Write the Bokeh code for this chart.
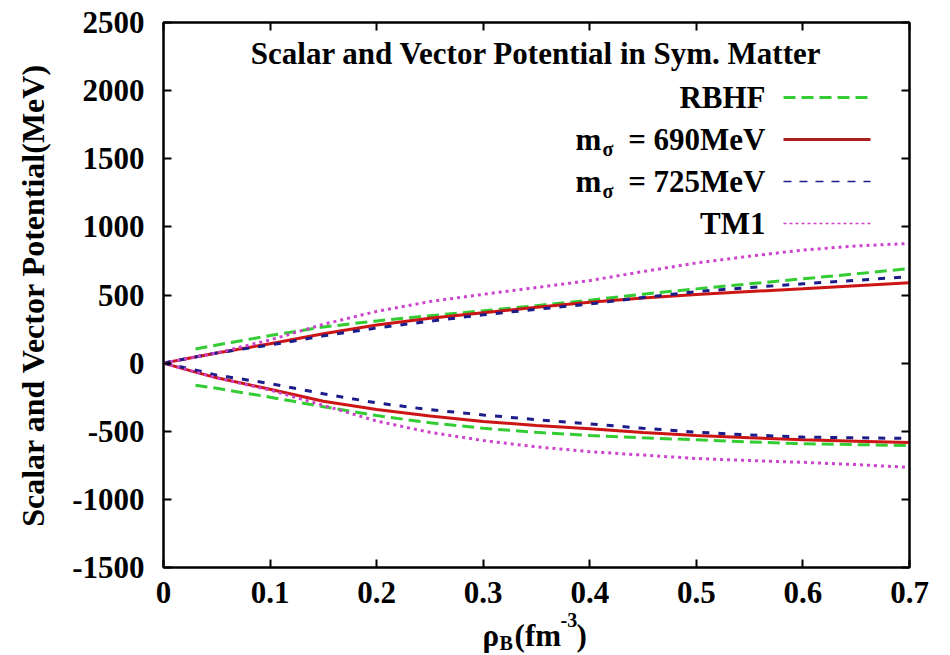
from bokeh.plotting import figure
from bokeh.models import Range1d, LinearAxis, FixedTicker, Label, Title
from bokeh.embed import file_html
from bokeh.resources import INLINE

# Baryon density grids (fm^-3)
rho = [0.0, 0.025, 0.05, 0.1, 0.15, 0.2, 0.25, 0.3, 0.35, 0.4, 0.45, 0.5, 0.55, 0.6, 0.65, 0.7]
rho_rbhf = [0.03, 0.05, 0.1, 0.15, 0.2, 0.25, 0.3, 0.35, 0.4, 0.45, 0.5, 0.55, 0.6, 0.65, 0.7]

# Vector potential (positive branch), MeV
vec_rbhf = [103, 133, 202, 265, 310, 348, 384, 422, 462, 506, 545, 582, 619, 655, 694]
vec_690 = [0, 38, 75, 142, 215, 280, 330, 370, 410, 447, 478, 503, 525, 545, 568, 590]
vec_725 = [0, 38, 75, 133, 200, 258, 308, 355, 395, 434, 482, 525, 555, 582, 608, 634]
vec_tm1 = [0, 38, 75, 170, 285, 380, 452, 505, 555, 606, 672, 735, 785, 830, 860, 878]

# Scalar potential (negative branch), MeV
sca_rbhf = [-162, -185, -250, -320, -385, -438, -478, -508, -531, -548, -563, -578, -592, -598, -605]
sca_690 = [0, -55, -108, -192, -280, -340, -388, -428, -458, -482, -510, -531, -548, -563, -573, -583]
sca_725 = [0, -42, -88, -150, -225, -292, -342, -380, -415, -446, -478, -507, -527, -543, -548, -553]
sca_tm1 = [0, -55, -108, -198, -310, -425, -508, -568, -615, -650, -675, -700, -715, -728, -745, -765]

x_ticks = [0, 0.1, 0.2, 0.3, 0.4, 0.5, 0.6, 0.7]
x_tick_labels = ["0", "0.1", "0.2", "0.3", "0.4", "0.5", "0.6", "0.7"]
y_ticks = [-1500, -1000, -500, 0, 500, 1000, 1500, 2000, 2500]
y_tick_labels = ["-1500", "-1000", "-500", "0", "500", "1000", "1500", "2000", "2500"]

series_names = ["RBHF", "690MeV", "725MeV", "TM1"]

X_MIN, X_MAX = 0.0, 0.7
Y_MIN, Y_MAX = -1500, 2500

FONT = "Liberation Serif"
FS = "31px"
GREEN = "#33cc33"
RED = "#cc1515"
BLUE = "#1c1c8a"
MAGENTA = "#cc44cc"
NBSP = "\u00a0"

# frame placement on the canvas (pixels)
L, R, T, B = 163, 909, 22, 567
W, H = 950, 655

p = figure(width=W, height=H, output_backend="svg", toolbar_location=None,
           x_range=Range1d(X_MIN, X_MAX), y_range=Range1d(Y_MIN, Y_MAX),
           min_border_left=L, min_border_right=W - R,
           min_border_top=T, min_border_bottom=H - B,
           x_axis_type=None, y_axis_type=None)
p.xgrid.visible = False
p.ygrid.visible = False
p.outline_line_color = "black"
p.outline_line_width = 2
p.background_fill_color = "white"
p.border_fill_color = "white"


def style_axis(ax, ticks, labels, show_labels=True):
    ax.ticker = FixedTicker(ticks=ticks)
    ax.major_label_overrides = {t: s for t, s in zip(ticks, labels)}
    ax.major_tick_in = 8
    ax.major_tick_out = 0
    ax.minor_tick_in = 0
    ax.minor_tick_out = 0
    ax.major_tick_line_width = 2
    ax.axis_line_width = 2
    ax.axis_line_color = "black"
    ax.major_label_text_font = FONT
    ax.major_label_text_font_style = "bold"
    if show_labels:
        ax.major_label_text_font_size = FS
        ax.major_label_text_color = "black"
    else:
        # mirror axis: ticks only
        ax.major_label_text_font_size = "8px"
        ax.major_label_text_color = None
        ax.major_label_standoff = 0


xb = LinearAxis()
style_axis(xb, x_ticks, x_tick_labels)
xb.major_label_standoff = 14
p.add_layout(xb, "below")

yl = LinearAxis()
style_axis(yl, y_ticks, y_tick_labels)
yl.major_label_standoff = 19
yl.axis_label = "Scalar and Vector Potential(MeV)"
yl.axis_label_text_font = FONT
yl.axis_label_text_font_style = "bold"
yl.axis_label_text_font_size = "32px"
yl.axis_label_text_color = "black"
yl.axis_label_standoff = 18
p.add_layout(yl, "left")

xt = LinearAxis()
style_axis(xt, x_ticks, x_tick_labels, show_labels=False)
p.add_layout(xt, "above")

yr = LinearAxis()
style_axis(yr, y_ticks, y_tick_labels, show_labels=False)
p.add_layout(yr, "right")

# x-axis title rho_B (fm^-3): superscript row, main row, subscript row
for txt, size, left, so in [("-3", "20px", 560, 10),
                            ("ρ" + NBSP * 2 + "(fm" + NBSP * 2 + ")", FS, 482, -32),
                            ("B", "20px", 499, -13)]:
    p.add_layout(Title(text=txt, align="left", offset=left - L, standoff=so,
                       text_font=FONT, text_font_style="bold", text_font_size=size,
                       text_color="black"), "below")

# curves
p.line(rho_rbhf, vec_rbhf, line_color=GREEN, line_width=3, line_dash="12 6")
p.line(rho_rbhf, sca_rbhf, line_color=GREEN, line_width=3, line_dash="12 6")
p.line(rho, vec_690, line_color=RED, line_width=3)
p.line(rho, sca_690, line_color=RED, line_width=3)
p.line(rho, vec_725, line_color=BLUE, line_width=3, line_dash="7 9")
p.line(rho, sca_725, line_color=BLUE, line_width=3, line_dash="7 9")
p.line(rho, vec_tm1, line_color=MAGENTA, line_width=3, line_dash="3 4")
p.line(rho, sca_tm1, line_color=MAGENTA, line_width=3, line_dash="3 4")


def sx(px):
    return X_MIN + (px - L) / (R - L) * (X_MAX - X_MIN)


def sy(py):
    return Y_MAX - (py - T) / (B - T) * (Y_MAX - Y_MIN)


def put(text, px, py, size=FS, align="left"):
    p.add_layout(Label(x=sx(px), y=sy(py), text=text, text_font=FONT,
                       text_font_style="bold", text_font_size=size,
                       text_align=align, text_baseline="middle",
                       text_color="black"))


# title inside the frame
put("Scalar and Vector Potential in Sym. Matter", (L + R) / 2, 53, align="center")

# key: label on the left, line sample on the right
rows = [97, 139, 181, 223]
key_text_right = 765
key_x0, key_x1 = 783, 870
put(series_names[0], key_text_right, rows[0], align="right")
for row, name in zip(rows[1:3], series_names[1:3]):
    put("= " + name, key_text_right, row, align="right")
    put("m", 575, row, align="left")
    put("σ", 602, row + 9, size="20px", align="left")
put(series_names[3], key_text_right, rows[3], align="right")

key_styles = [
    dict(line_color=GREEN, line_width=3, line_dash="12 6"),
    dict(line_color="#aa2020", line_width=3),
    dict(line_color=BLUE, line_width=1.5, line_dash="8 8"),
    dict(line_color=MAGENTA, line_width=1.5, line_dash="3 3"),
]
for row, st in zip(rows, key_styles):
    p.line([sx(key_x0), sx(key_x1)], [sy(row), sy(row)], **st)

open("out.html", "w").write(file_html(p, INLINE))
